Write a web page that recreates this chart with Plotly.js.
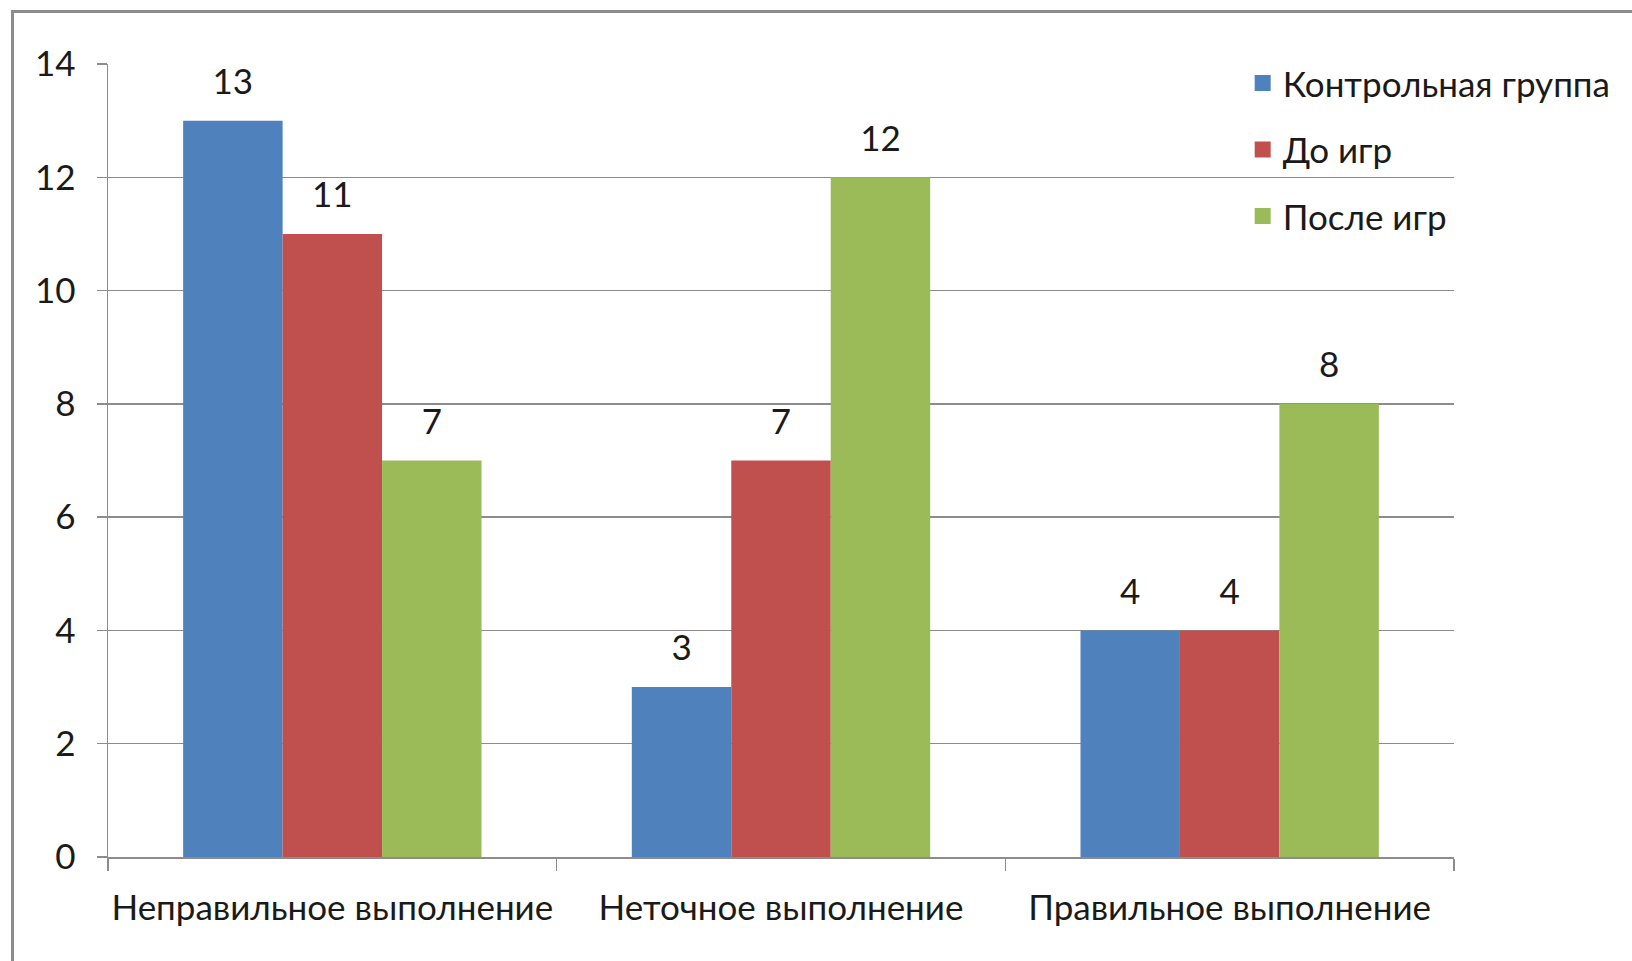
<!DOCTYPE html>
<html>
<head>
<meta charset="utf-8">
<script src="https://cdn.plot.ly/plotly-3.0.1.min.js"></script>
<style>
  html, body { margin: 0; padding: 0; background: #ffffff; }
  #frame { position: absolute; left: 11px; top: 10px; width: 1621px; height: 951px;
           border-left: 3px solid #8c8c8c; border-top: 3px solid #8c8c8c; box-sizing: border-box; }
  #chart { position: absolute; left: 0; top: 0; width: 1632px; height: 961px; }
</style>
</head>
<body>
<div id="frame"></div>
<div id="chart"></div>
<script>
const categories = ["Неправильное выполнение", "Неточное выполнение", "Правильное выполнение"];
const seriesNames = ["Контрольная группа", "До игр", "После игр"];
const controlGroup = [13, 3, 4];
const beforeGames = [11, 7, 4];
const afterGames = [7, 12, 8];
const yTicks = [0, 2, 4, 6, 8, 10, 12, 14];

const colors = ["#4F81BD", "#C0504D", "#9BBB59"];
const allValues = [controlGroup, beforeGames, afterGames];
const font = "Lato, 'Open Sans', sans-serif";
const textColor = "#1a1a1a";
const fs = 35;

const bars = allValues.map((vals, i) => ({
  type: "bar",
  name: seriesNames[i],
  x: categories,
  y: vals,
  showlegend: false,
  marker: { color: colors[i], line: { width: 0 } },
  hoverinfo: "none"
}));

const labels = allValues.map((vals, i) => ({
  type: "scatter",
  mode: "markers+text",
  orientation: "v",
  x: categories,
  y: vals,
  text: vals.map(String),
  textposition: "top center",
  textfont: { family: font, size: fs, color: textColor },
  marker: { size: 27, color: "rgba(0,0,0,0)", line: { width: 0 } },
  cliponaxis: false,
  showlegend: false,
  hoverinfo: "none"
}));

const legendItems = seriesNames.map((name, i) => ({
  type: "scatter",
  mode: "markers",
  name: name,
  legendgroup: "g" + i,
  xaxis: "x2",
  yaxis: "y2",
  x: [null],
  y: [null],
  marker: { symbol: "square", size: 16, color: colors[i], line: { width: 0 } },
  hoverinfo: "none"
}));

const layout = {
  width: 1632,
  height: 961,
  paper_bgcolor: "rgba(0,0,0,0)",
  plot_bgcolor: "rgba(0,0,0,0)",
  margin: { l: 108, r: 178, t: 64, b: 104 },
  barmode: "group",
  bargap: 0.335,
  bargroupgap: 0,
  scattermode: "group",
  scattergap: 0.335,
  font: { family: font, size: fs, color: textColor },
  showlegend: true,
  legend: {
    x: 0.843, y: 1.013, xanchor: "left", yanchor: "top",
    font: { family: font, size: 35, color: textColor },
    tracegroupgap: 18,
    traceorder: "grouped",
    itemwidth: 30,
    bgcolor: "rgba(0,0,0,0)"
  },
  xaxis: {
    type: "category",
    showgrid: false,
    showline: true,
    linecolor: "#8c8c8c",
    linewidth: 1.5,
    ticks: "outside",
    tickson: "boundaries",
    ticklen: 12,
    tickcolor: "#8c8c8c",
    tickwidth: 1.5,
    tickangle: 0,
    tickfont: { family: font, size: fs, color: textColor },
    ticklabelstandoff: 19,
    zeroline: false
  },
  yaxis: {
    range: [0, 14],
    tickvals: yTicks,
    ticktext: yTicks.map(String),
    showgrid: true,
    gridcolor: "#8c8c8c",
    gridwidth: 1.5,
    showline: true,
    linecolor: "#8c8c8c",
    linewidth: 1.5,
    ticks: "outside",
    ticklen: 10,
    tickcolor: "#8c8c8c",
    tickwidth: 1.5,
    ticklabelstandoff: 14,
    tickfont: { family: font, size: fs, color: textColor },
    zeroline: false
  },
  xaxis2: { overlaying: "x", visible: false, range: [0, 1] },
  yaxis2: { overlaying: "y", visible: false, range: [0, 1] }
};

Plotly.newPlot("chart", bars.concat(labels, legendItems), layout, { displayModeBar: false, staticPlot: true });
</script>
</body>
</html>
